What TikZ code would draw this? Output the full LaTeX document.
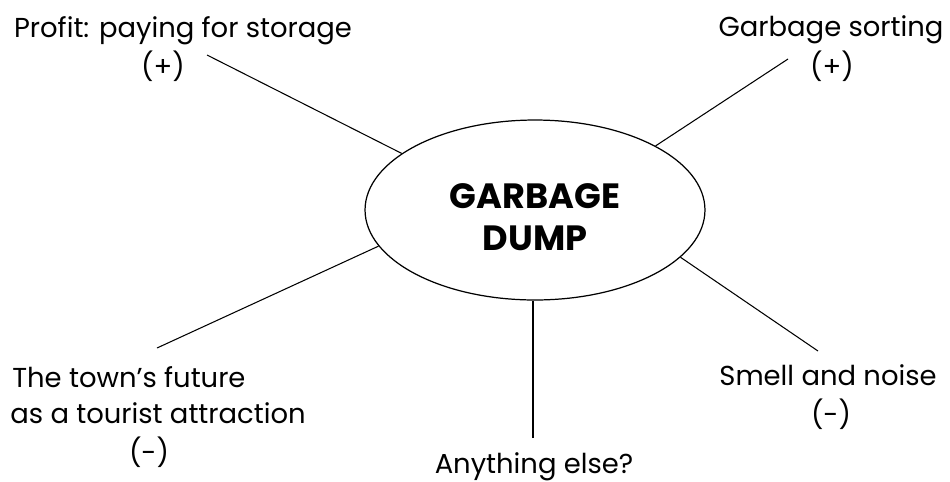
\documentclass[tikz,border=0pt]{standalone}
\usepackage{fontspec}
\setmainfont{Poppins}
\usetikzlibrary{positioning,shapes.geometric}
\tikzset{
  hubnode/.style={
    ellipse, draw, line width=0.7pt,
    minimum width=6.8cm, minimum height=3.6cm,
    inner sep=0pt
  },
  titletext/.style={
    align=center, inner sep=0pt,
    font=\fontsize{20}{24}\selectfont\bfseries
  },
  itemtext/.style={
    anchor=base, inner sep=0pt,
    font=\fontsize{15.6}{22}\selectfont
  },
  spoke/.style={line width=0.6pt},
}
\begin{document}
\begin{tikzpicture}[x=0.02cm, y=-0.02cm]
\useasboundingbox (0,0) rectangle (950,481);

% centre
\node[hubnode] (dump) at (535,210) {};
\node[titletext] (dumptitle) at (535,217) {GARBAGE\\DUMP};

% labels round the centre
\node[itemtext] (profit) at (183,37) {Profit: paying for storage};
\node[itemtext] (profitsign) at (163,76) {(+)};
\node[itemtext] (sorting) at (831,36) {Garbage sorting};
\node[itemtext] (sortingsign) at (832,76) {(+)};
\node[itemtext, anchor=base west] (town) at (12,387) {The town’s future};
\node[itemtext, anchor=base west] (tourist) at (10,423) {as a tourist attraction};
\node[itemtext] (townsign) at (149,462) {(-)};
\node[itemtext] (smell) at (828,385) {Smell and noise};
\node[itemtext] (smellsign) at (831,424) {(-)};
\node[itemtext] (other) at (534,473) {Anything else?};

% free ends of the spokes
\coordinate (profitend) at (207,55);
\coordinate (sortingend) at (788,59);
\coordinate (townend) at (157,348);
\coordinate (otherend) at (533,438);
\coordinate (smellend) at (818,351);

% spokes
\draw[spoke] (profitend) -- (dump.157);
\draw[spoke] (sortingend) -- (dump.28);
\draw[spoke] (townend) -- (dump.193.4);
\draw[spoke] (otherend) -- (otherend |- dump.south);
\draw[spoke] (smellend) -- (dump.342);

\end{tikzpicture}
\end{document}
